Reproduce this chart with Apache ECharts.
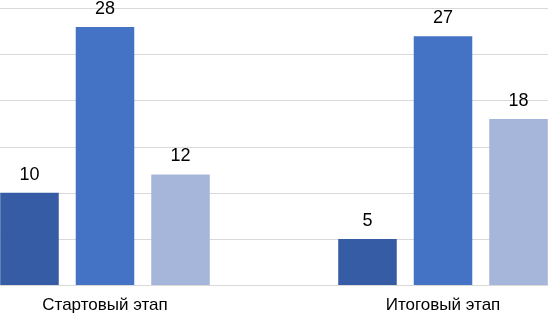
<!DOCTYPE html>
<html>
<head>
<meta charset="utf-8">
<script src="https://cdn.jsdelivr.net/npm/echarts@6/dist/echarts.min.js"></script>
<style>
  html, body { margin: 0; padding: 0; background: #fff; overflow: hidden; width: 548px; height: 318px; }
  #chart { position: absolute; left: -64px; top: 0; width: 676px; height: 318px; }
</style>
</head>
<body>
<div id="chart"></div>
<script>
const categories = ["Стартовый этап", "Итоговый этап"];
const series1 = [10, 5];
const series2 = [28, 27];
const series3 = [12, 18];
const colors = ["#355CA4", "#4472C4", "#A6B5DA"];

const chart = echarts.init(document.getElementById("chart"));

const labelStyle = {
  show: true,
  position: "top",
  distance: 9,
  fontFamily: "Liberation Sans",
  fontSize: 18,
  color: "#000",
};

const mkSeries = (data, color) => ({
  type: "bar",
  data: data,
  itemStyle: { color: color },
  label: labelStyle,
  barGap: "29%",
  barCategoryGap: "38%",
});

chart.setOption({
  animation: false,
  grid: { left: 0, right: 0, top: 8.5, bottom: 33 },
  xAxis: {
    type: "category",
    data: categories,
    axisTick: { show: false },
    axisLine: { show: true, lineStyle: { color: "#d9d9d9", width: 1 } },
    axisLabel: {
      fontFamily: "Liberation Sans",
      fontSize: 17,
      color: "#000",
      margin: 12,
    },
  },
  yAxis: {
    type: "value",
    min: 0,
    max: 30,
    interval: 5,
    axisLabel: { show: false },
    axisLine: { show: false },
    axisTick: { show: false },
    splitLine: { lineStyle: { color: "#d9d9d9", width: 1 } },
  },
  series: [
    mkSeries(series1, colors[0]),
    mkSeries(series2, colors[1]),
    mkSeries(series3, colors[2]),
  ],
});
</script>
</body>
</html>
